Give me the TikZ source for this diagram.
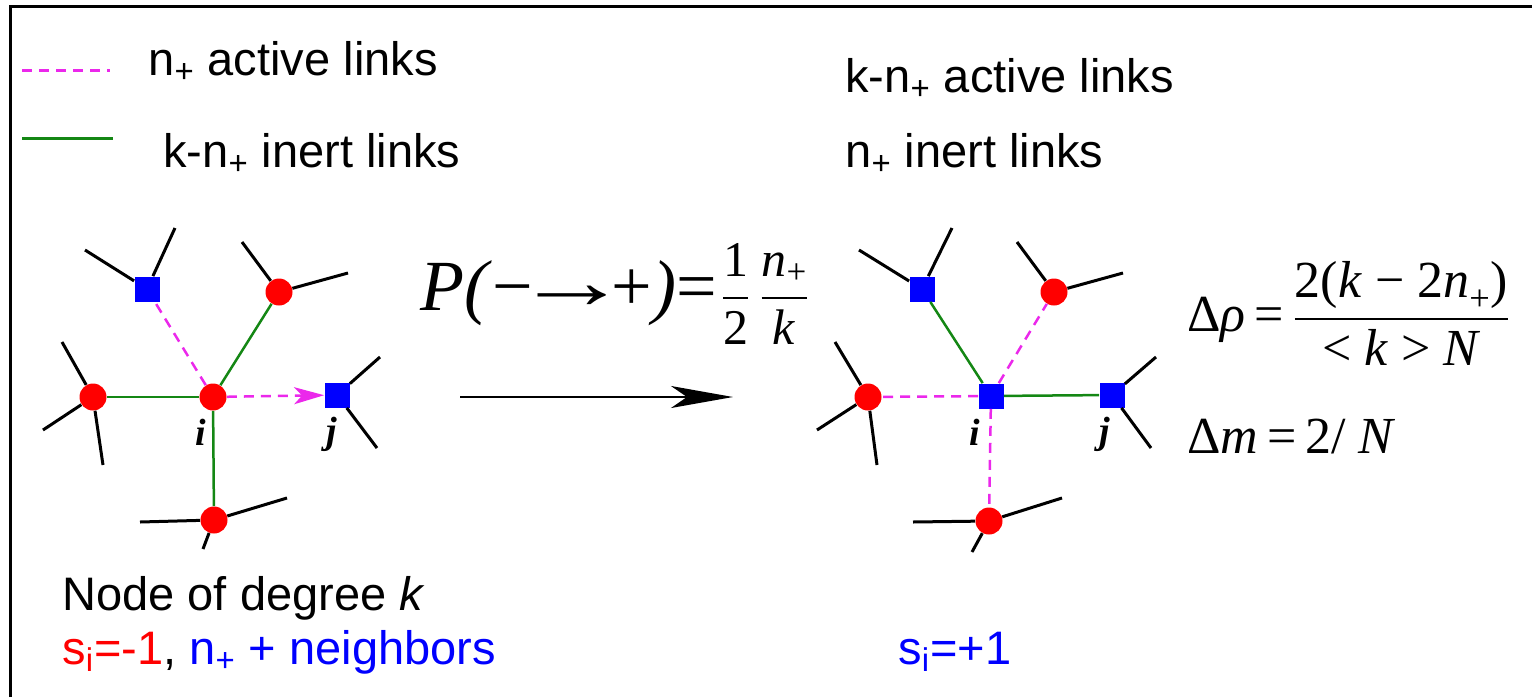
\documentclass[tikz,border=0pt]{standalone}
\usepackage{amsmath}
\usepackage[no-math]{fontspec}
\setmainfont{Liberation Sans}
\newfontfamily\timesfont{Liberation Serif}
\newcommand{\tms}[1]{\text{\timesfont #1}}
\usetikzlibrary{arrows.meta}
\definecolor{SpinMenos}{RGB}{255,0,0}
\definecolor{SpinMais}{RGB}{0,0,255}
\definecolor{LinkAtivo}{RGB}{235,40,235}
\definecolor{LinkInerte}{RGB}{20,135,20}
\tikzset{
  nomenos/.style={circle, fill=SpinMenos, inner sep=0pt, minimum size=13.5pt},
  nomais/.style={rectangle, fill=SpinMais, inner sep=0pt, minimum size=12.5pt},
  haste/.style={line width=1.5pt, black},
  ativa/.style={line width=1.25pt, LinkAtivo, dash pattern=on 5pt off 3.5pt},
  inerte/.style={line width=1.25pt, LinkInerte},
  seta/.style={-{Stealth[length=31pt, width=11pt, inset=8pt]}, line width=1pt, black},
  legenda/.style={font=\fontsize{23.5}{28}\selectfont, anchor=base west, inner sep=0pt},
  formula/.style={anchor=base west, inner sep=0pt, font=\timesfont\fontsize{26}{30}\selectfont},
  rotulo/.style={font=\timesfont\bfseries\itshape\fontsize{19}{22}\selectfont, inner sep=0pt},
}
\begin{document}
\begin{tikzpicture}[x=0.5pt, y=-0.5pt]
  \useasboundingbox (0,0) rectangle (1532,697);
  % Moldura
  \draw[line width=1.5pt] (10,697) -- (10,6) -- (1532,6);

  % Legenda
  \coordinate (legAtivaA) at (22,70);
  \coordinate (legAtivaB) at (110,70);
  \coordinate (legInerteA) at (22,138);
  \coordinate (legInerteB) at (113,138);
  \draw[ativa, line width=1.5pt] (legAtivaA) -- (legAtivaB);
  \draw[inerte, line width=1.5pt] (legInerteA) -- (legInerteB);
  \node[legenda] (txtAtiva) at (148,75) {n\textsubscript{+} active links};
  \node[legenda] (txtInerte) at (163,167) {k-n\textsubscript{+} inert links};
  \node[legenda] (dirAtiva) at (845,92) {k-n\textsubscript{+} active links};
  \node[legenda] (dirInerte) at (845,167) {n\textsubscript{+} inert links};

  % Rede antes da troca
  \node[nomenos] (iL) at (213,397) {};
  \node[nomais] (tlL) at (147,289) {};
  \node[nomenos] (trL) at (279,292) {};
  \node[nomenos] (lL) at (93,397) {};
  \node[nomais] (jL) at (337,395) {};
  \node[nomenos] (bL) at (214,520) {};

  % Rede depois da troca
  \node[nomais] (iR) at (991,396) {};
  \node[nomais] (tlR) at (922,289) {};
  \node[nomenos] (trR) at (1054,292) {};
  \node[nomenos] (lR) at (868,397) {};
  \node[nomais] (jR) at (1112,395) {};
  \node[nomenos] (bR) at (989,521) {};

  % Hastes dos vizinhos
  \foreach \no/\k/\x/\y in {tlL/1/85/250, tlL/2/175/228, trL/1/242/242, trL/2/348/273,
      lL/1/62/342, lL/2/43/430, lL/3/103/465, jL/1/380/357, jL/2/377/448,
      bL/1/140/522, bL/2/287/498, bL/3/203/549,
      tlR/1/859/250, tlR/2/952/228, trR/1/1017/242, trR/2/1123/273,
      lR/1/835/342, lR/2/817/430, lR/3/877/465, jR/1/1156/357, jR/2/1151/448,
      bR/1/913/522, bR/2/1062/498, bR/3/972/552}
  {
    \coordinate (\no-\k) at (\x,\y);
    \draw[haste] (\no) -- (\no-\k);
  }

  % Ligacoes
  \draw[ativa] (iL) -- (tlL);
  \draw[inerte] (iL) -- (trL);
  \draw[inerte] (iL) -- (lL);
  \draw[inerte] (iL) -- (bL);
  \draw[ativa, -{Stealth[length=15pt, width=8.5pt, inset=4pt]}] (iL) -- (jL);
  \draw[inerte] (iR) -- (tlR);
  \draw[ativa] (iR) -- (trR);
  \draw[ativa] (iR) -- (lR);
  \draw[inerte] (iR) -- (jR);
  \draw[ativa] (iR) -- (bR);

  \node[rotulo] (rotIL) at (201,432) {i};
  \node[rotulo] (rotJL) at (332,434) {j};
  \node[rotulo] (rotIR) at (975,432) {i};
  \node[rotulo] (rotJR) at (1105,434) {j};

  % Transicao
  \coordinate (setaIni) at (460,397);
  \coordinate (setaFim) at (733,397);
  \draw[seta] (setaIni) -- (setaFim);
  \node[formula, font=\timesfont\fontsize{36}{40}\selectfont] (prob) at (420,310)
    {\textit{P(}−\kern-9pt\raisebox{1pt}{\scalebox{1.6}[1.1]{→}}\kern-9pt+\textit{)}=\kern2pt{\fontsize{25}{30}\selectfont
      $\dfrac{\tms{1}}{\tms{2}}\,\dfrac{\tms{\textit{n}}_{\tms{+}}}{\tms{\textit{k}}}$}};
  \node[formula] (deltaRho) at (1187,331)
    {Δ\textit{ρ}\,=\,$\dfrac{\tms{2(\textit{k} − 2\textit{n}}_{\tms{+}}\tms{)}}{\tms{< \textit{k} > \textit{N}}}$};
  \node[formula] (deltaM) at (1187,453) {Δ\textit{m}\,=\,2/ \textit{N}};

  % Estados do no i
  \node[legenda] (grau) at (62,610) {Node of degree \textit{k}};
  \node[legenda] (spinEsq) at (62,664)
    {\textcolor{SpinMenos}{s\textsubscript{i}=-1}, \textcolor{SpinMais}{n\textsubscript{+} + neighbors}};
  \node[legenda, text=SpinMais] (spinDir) at (898,664) {s\textsubscript{i}=+1};
\end{tikzpicture}
\end{document}
